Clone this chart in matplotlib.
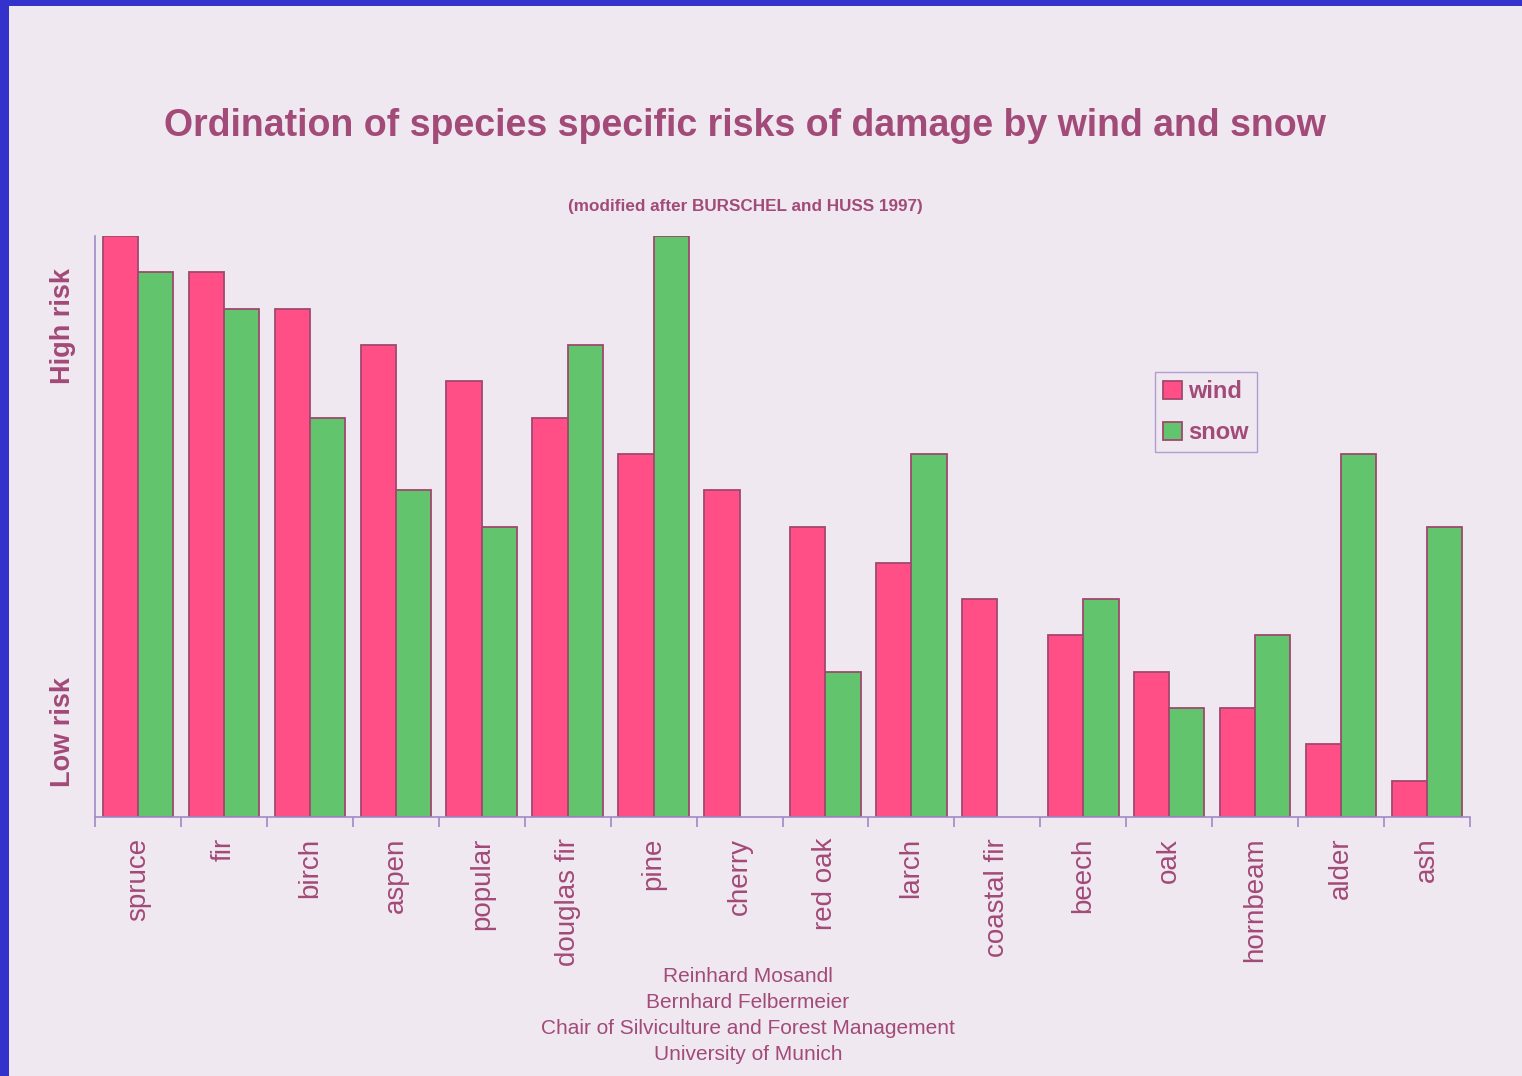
import matplotlib
matplotlib.use("Agg")
import matplotlib.pyplot as plt
import numpy as np
from matplotlib.patches import Rectangle

species = ["spruce", "fir", "birch", "aspen", "popular", "douglas fir", "pine",
           "cherry", "red oak", "larch", "coastal fir", "beech", "oak",
           "hornbeam", "alder", "ash"]
wind = [16, 15, 14, 13, 12, 11, 10, 9, 8, 7, 6, 5, 4, 3, 2, 1]
snow = [15, 14, 11, 9, 8, 13, 16, 0, 4, 10, 0, 6, 3, 5, 10, 8]

BG = "#efe8f1"
TXT = "#a24a78"
PINK = "#ff4f86"
GREEN = "#62c46c"
EDGE = "#a0486e"
AXC = "#a08ac8"
BLUE = "#3333cc"

plt.rcParams["font.family"] = ["Liberation Sans", "DejaVu Sans"]

W, H = 1522, 1076
fig = plt.figure(figsize=(W / 100, H / 100), dpi=100, facecolor=BG)

# blue frame (top and left)
fig.add_artist(Rectangle((0, 1 - 6 / H), 1, 6 / H, transform=fig.transFigure,
                         facecolor=BLUE, edgecolor="none"))
fig.add_artist(Rectangle((0, 0), 9 / W, 1, transform=fig.transFigure,
                         facecolor=BLUE, edgecolor="none"))

left, right = 95 / W, 1470 / W
bottom, top = 1 - 817 / H, 1 - 236 / H
ax = fig.add_axes([left, bottom, right - left, top - bottom])
ax.set_facecolor("none")

x = np.arange(len(species))
bw = 0.41
ax.bar(x - bw / 2, wind, width=bw, color=PINK, edgecolor=EDGE, linewidth=1.3, label="wind")
snow_plot = [v if v > 0 else np.nan for v in snow]
ax.bar(x + bw / 2, snow_plot, width=bw, color=GREEN, edgecolor=EDGE, linewidth=1.3, label="snow")

ax.set_xlim(-0.5, len(species) - 0.5)
ax.set_ylim(0, 16)

for s in ["top", "right"]:
    ax.spines[s].set_visible(False)
for s in ["left", "bottom"]:
    ax.spines[s].set_color(AXC)
    ax.spines[s].set_linewidth(1.2)

ax.set_yticks([])
ax.set_xticks(x)
ax.set_xticklabels(species, rotation=90, fontsize=20, color=TXT)
ax.tick_params(axis="x", which="major", length=0, pad=15)
ax.set_xticks(np.arange(-0.5, len(species)), minor=True)
ax.tick_params(axis="x", which="minor", length=7, color=AXC, width=1.2, direction="out")

leg = ax.legend(loc="upper left", bbox_to_anchor=(1155 / W, 1 - 372 / H),
                bbox_transform=fig.transFigure, prop={"weight": "bold", "size": 17},
                frameon=True, fancybox=False, handlelength=0.8, handleheight=0.8,
                handletextpad=0.25, borderpad=0.35, labelspacing=0.75, borderaxespad=0)
leg.get_frame().set_edgecolor(AXC)
leg.get_frame().set_facecolor(BG)
leg.get_frame().set_linewidth(1.0)
for t in leg.get_texts():
    t.set_color(TXT)

fig.text(745 / W, 1 - 126 / H, "Ordination of species specific risks of damage by wind and snow",
         ha="center", va="center", fontsize=27, fontweight="bold", color=TXT)
fig.text(745 / W, 1 - 207 / H, "(modified after BURSCHEL and HUSS 1997)",
         ha="center", va="center", fontsize=12.3, fontweight="bold", color=TXT)

fig.text(63 / W, 1 - 326 / H, "High risk", rotation=90, ha="center", va="center",
         fontsize=19.5, fontweight="bold", color=TXT)
fig.text(63 / W, 1 - 732 / H, "Low risk", rotation=90, ha="center", va="center",
         fontsize=19.5, fontweight="bold", color=TXT)

footer = ["Reinhard Mosandl", "Bernhard Felbermeier",
          "Chair of Silviculture and Forest Management", "University of Munich"]
for i, line in enumerate(footer):
    fig.text(748 / W, 1 - (977 + 26 * i) / H, line, ha="center", va="center",
             fontsize=15, color=TXT)

fig.savefig("out.png", dpi=100, facecolor=BG)
